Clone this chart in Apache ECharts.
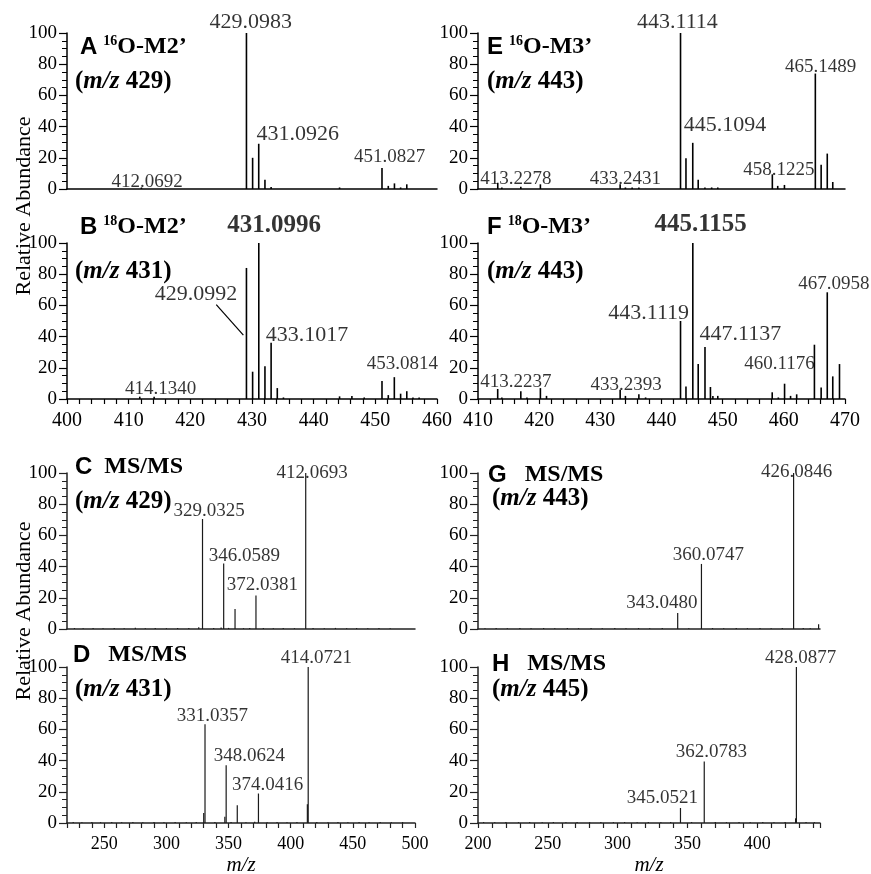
<!DOCTYPE html>
<html><head><meta charset="utf-8">
<script src="https://cdn.jsdelivr.net/npm/echarts@6/dist/echarts.min.js"></script>
<style>html,body{margin:0;padding:0;background:#fff}#c{width:871px;height:874px}</style>
</head><body><div id="c"></div>
<script>
// ---------------- data ----------------
const peaksA = [[412.07,1],[429.10,100],[430.10,20],[431.09,29],[432.10,6],[433.10,1.3],[444.2,1],[451.08,13.5],[452.10,2],[453.10,3.6],[454.10,1],[455.10,3]];
const labelsA_L = [[429.8,101.7,'429.0983'],[437.4,29.6,'431.0926']];
const labelsA_S = [[452.3,16.3,'451.0827'],[413.0,0.2,'412.0692']];

const peaksB = [[411.8,1.5],[414.13,1.5],[429.10,84],[430.10,17.5],[431.10,100],[432.10,21],[433.10,36],[434.10,7],[435.10,1],[444.2,1.7],[446.2,2],[448.2,1],[451.08,11.5],[452.10,2.5],[453.08,14],[454.10,3.4],[455.10,5],[456.1,1],[457.1,1]];
const labelsB_B = [[433.6,105,'431.0996']];
const labelsB_L = [[420.9,62,'429.0992'],[438.9,35.5,'433.1017']];
const labelsB_S = [[454.4,17.7,'453.0814'],[415.2,1.7,'414.1340']];
const leaderB = [[424.2,60.5],[428.6,41]];

const peaksC = [[226,0.6],[233,0.5],[241,0.7],[249,0.5],[258,0.6],[266,0.5],[275,0.8],[283,0.5],[291,0.6],[300,0.5],[309,0.7],[318,0.6],[326,1.2],[329.03,70.5],[338,0.6],[344,1.0],[346.06,42],[350,0.7],[355.2,12.8],[362,0.5],[367,0.6],[372.04,21.4],[378,0.6],[386,0.5],[394,0.6],[403,0.5],[412.07,100],[418,0.6],[427,0.5],[436,0.7],[445,0.5],[453,0.6],[462,0.5],[471,0.6],[480,0.5]];
const labelsC = [[417.3,95.7,'412.0693'],[334.4,71,'329.0325'],[362.7,42.3,'346.0589'],[377.1,24,'372.0381']];

const peaksD = [[225,0.6],[232,0.5],[240,0.6],[247,0.5],[256,0.7],[264,0.5],[273,0.6],[281,0.5],[290,0.7],[298,0.5],[307,0.6],[316,0.5],[324,0.7],[330.0,6.4],[331.04,63.3],[339,0.6],[347.0,4],[348.06,37],[352,0.6],[357.0,11.4],[364,0.5],[371,0.8],[374.04,18.9],[381,0.5],[389,0.6],[397,0.5],[405,0.6],[413.4,12],[414.07,100],[421,0.6],[430,0.5],[438,0.6],[446,0.5],[455,0.6],[463,0.5],[472,0.6],[481,0.5],[490,0.6]];
const labelsD = [[420.7,101.5,'414.0721'],[337,64.4,'331.0357'],[366.7,38.2,'348.0624'],[381.4,20,'374.0416']];

const peaksE = [[413.23,4],[413.9,1],[417.0,1.5],[420.2,3],[433.24,3],[434.1,1],[435.2,1],[436.3,1],[443.11,100],[444.0,19.7],[445.11,29.6],[446.0,6],[447.1,1],[448.2,1],[449.2,1],[458.12,9.4],[459.0,2],[460.1,2.6],[465.15,74],[466.1,15.5],[467.1,22.7],[468.0,4.5]];
const labelsE_L = [[442.6,101.7,'443.1114'],[450.4,35.6,'445.1094']];
const labelsE_S = [[466.0,73.8,'465.1489'],[459.2,7.7,'458.1225'],[434.1,1.7,'433.2431'],[416.2,1.7,'413.2278']];

const peaksF = [[413.22,6.4],[413.9,1],[417.0,5],[418.0,1],[420.2,7],[421.2,2],[433.24,6],[434.1,2],[436.3,3],[437.4,1],[443.11,50],[444.0,8],[445.12,100],[446.0,22.4],[447.11,33.3],[448.0,7.7],[448.4,2],[449.2,2],[458.1,4.3],[459.1,1],[460.12,9.8],[461.1,2],[462.1,3],[465.0,34.8],[466.1,7.3],[467.10,68.4],[468.0,14.5],[469.1,22.4]];
const labelsF_B = [[446.4,105.3,'445.1155']];
const labelsF_L = [[437.9,49.8,'443.1119'],[452.9,35.9,'447.1137']];
const labelsF_S = [[468.2,69,'467.0958'],[459.3,17.7,'460.1176'],[434.2,4.3,'433.2393'],[416.2,6.4,'413.2237']];

const peaksG = [[205,0.5],[213,0.6],[221,0.5],[230,0.7],[238,0.5],[247,0.6],[255,0.5],[264,0.6],[272,0.5],[281,0.7],[289,0.5],[298,0.6],[306,0.5],[315,0.6],[323,0.5],[332,0.7],[343.05,10.3],[351,0.5],[360.07,41.7],[368,0.6],[376,0.5],[385,0.6],[393,0.5],[402,0.7],[410,0.5],[418,0.6],[426.08,100],[433,0.6],[438,0.5],[444,3]];
const labelsG = [[428.3,96,'426.0846'],[365,42.7,'360.0747'],[331.7,12.4,'343.0480']];

const peaksH = [[204,0.6],[212,0.5],[220,0.6],[229,0.5],[237,0.7],[246,0.5],[254,0.6],[263,0.5],[271,0.6],[280,0.5],[288,0.7],[297,0.5],[305,0.6],[314,0.5],[322,0.6],[331,0.5],[338,0.6],[345.05,9.6],[353,0.6],[362.08,39.5],[370,0.6],[378,0.5],[387,0.6],[395,0.5],[404,0.6],[412,0.5],[420,0.6],[427.5,3],[428.09,100],[435,0.6],[441,0.5]];
const labelsH = [[431.2,101.5,'428.0877'],[367.1,41.2,'362.0783'],[332.1,11.75,'345.0521']];

// ---------------- layout ----------------
const FONT = 'Liberation Serif';
const gridBoxes = [
  [67, 33, 370],   // A
  [67, 243, 370],  // B
  [67, 473, 348],  // C
  [67, 667, 348],  // D
  [478, 33, 367],  // E
  [478, 243, 367], // F
  [478, 473, 342], // G
  [478, 667, 342]  // H
];
const grids = gridBoxes.map(g => ({left:g[0], top:g[1], width:g[2], height:156,
  containLabel:false, outerBoundsMode:'none'}));
const xAxes = [], yAxes = [], series = [];

function labelSeries(idx, arr, size, bold) {
  return {
    type:'scatter', xAxisIndex:idx, yAxisIndex:idx, silent:true, clip:false, animation:false,
    data: arr.map(d => [d[0], d[1]]), symbolSize:1, itemStyle:{color:'rgba(0,0,0,0)'},
    label:{show:true, position:'top', distance:0, offset:[0,3], color:'#000',
      fontFamily:FONT, fontSize:size, fontWeight: bold ? 'bold' : 'normal',
      formatter: p => arr[p.dataIndex][2]}
  };
}

function addPanel(idx, xmin, xmax, showX, tickInt, labelEvery, peaks, ms2, labelSets) {
  const axisColor = ms2 ? '#222' : '#000';
  xAxes.push({
    gridIndex: idx, type:'value', min:xmin, max:xmax, interval:tickInt,
    axisLine:{show:true, onZero:false, lineStyle:{color:axisColor, width:1.5}},
    axisTick:{show:showX, length:5, lineStyle:{color:axisColor, width:1.2}},
    axisLabel:{show:showX, margin:12, color:'#000', fontFamily:FONT, fontSize: ms2 ? 18 : 20,
      showMinLabel:true, showMaxLabel:true,
      formatter: v => (Math.abs(v % labelEvery) < 1e-6 ? String(v) : '')},
    splitLine:{show:false},
    name: (showX && ms2) ? 'm/z' : '', nameLocation:'middle', nameGap:32,
    nameTextStyle:{fontFamily:FONT, fontStyle:'italic', fontSize:21, color:'#000'}
  });
  yAxes.push({
    gridIndex: idx, type:'value', min:0, max:100, interval:20,
    axisLine:{show:true, lineStyle:{color:axisColor, width:1.5}},
    axisTick:{show:true, length:8, lineStyle:{color:axisColor, width:1.2}},
    minorTick:{show:true, splitNumber:4, length:5, lineStyle:{color:axisColor, width:1}},
    axisLabel:{margin:10, color:'#000', fontFamily:FONT, fontSize:19},
    splitLine:{show:false}, minorSplitLine:{show:false}
  });
  series.push({
    type:'bar', xAxisIndex:idx, yAxisIndex:idx, data:peaks, barWidth: ms2 ? 1.2 : 1.6,
    itemStyle:{color: ms2 ? '#1a1a1a' : '#000'}, silent:true, clip:false, animation:false
  });
  labelSets.forEach(s => series.push(labelSeries(idx, s[0], s[1], s[2])));
}

addPanel(0, 400, 460, false, 2, 10, peaksA, false, [[labelsA_L,22,false],[labelsA_S,19,false]]);
addPanel(1, 400, 460, true, 2, 10, peaksB, false, [[labelsB_B,25,true],[labelsB_L,22,false],[labelsB_S,19,false]]);
addPanel(2, 220, 500, false, 10, 50, peaksC, true, [[labelsC,19,false]]);
addPanel(3, 220, 500, true, 10, 50, peaksD, true, [[labelsD,19,false]]);
addPanel(4, 410, 470, false, 2, 10, peaksE, false, [[labelsE_L,22,false],[labelsE_S,19,false]]);
addPanel(5, 410, 470, true, 2, 10, peaksF, false, [[labelsF_B,25,true],[labelsF_L,22,false],[labelsF_S,19,false]]);
addPanel(6, 200, 445, false, 10, 50, peaksG, true, [[labelsG,19,false]]);
addPanel(7, 200, 445, true, 10, 50, peaksH, true, [[labelsH,19,false]]);

series.push({type:'line', xAxisIndex:1, yAxisIndex:1, data:leaderB, symbol:'none', silent:true, clip:false,
  animation:false, lineStyle:{color:'#000', width:1.2}});

// ---------------- titles ----------------
const rich = {
  L:{fontFamily:'Liberation Sans', fontWeight:'bold', fontSize:24, lineHeight:26, fill:'#000', color:'#000'},
  T:{fontFamily:FONT, fontWeight:'bold', fontSize:24, lineHeight:26, fill:'#000', color:'#000'},
  s:{fontFamily:FONT, fontWeight:'bold', fontSize:14, verticalAlign:'top', fill:'#000', color:'#000'},
  P:{fontFamily:FONT, fontWeight:'bold', fontSize:25, lineHeight:27, fill:'#000', color:'#000'},
  I:{fontFamily:FONT, fontWeight:'bold', fontStyle:'italic', fontSize:25, lineHeight:27, fill:'#000', color:'#000'}
};
const titleDefs = [
  [80, 47, '{L|A} {s|16}{T|O-M2’}'],   [75, 82, '{P|(}{I|m/z}{P| 429)}'],
  [80, 227, '{L|B} {s|18}{T|O-M2’}'],  [75, 272, '{P|(}{I|m/z}{P| 431)}'],
  [487, 47, '{L|E} {s|16}{T|O-M3’}'],  [487, 82, '{P|(}{I|m/z}{P| 443)}'],
  [487, 227, '{L|F} {s|18}{T|O-M3’}'], [487, 272, '{P|(}{I|m/z}{P| 443)}'],
  [75, 467, '{L|C}{T|  MS/MS}'],       [75, 502, '{P|(}{I|m/z}{P| 429)}'],
  [73, 655, '{L|D}{T|   MS/MS}'],      [75, 690, '{P|(}{I|m/z}{P| 431)}'],
  [488, 475, '{L|G}{T|   MS/MS}'],     [492, 499, '{P|(}{I|m/z}{P| 443)}'],
  [492, 664, '{L|H}{T|   MS/MS}'],     [492, 690, '{P|(}{I|m/z}{P| 445)}']
];
const graphics = titleDefs.map(t => ({
  type:'text', x:t[0], y:t[1], silent:true,
  style:{text:t[2], rich:rich, font:'bold 24px "Liberation Serif"', fill:'#000',
    align:'left', verticalAlign:'middle', textAlign:'left', textVerticalAlign:'middle'}
}));
[[24, 206], [24, 611]].forEach(p => graphics.push({
  type:'text', x:p[0], y:p[1], rotation:Math.PI/2, silent:true,
  style:{text:'Relative Abundance', font:'22px "Liberation Serif"', fill:'#000',
    align:'center', verticalAlign:'middle', textAlign:'center', textVerticalAlign:'middle'}
}));

const chart = echarts.init(document.getElementById('c'), null, {renderer:'canvas'});
chart.setOption({
  animation:false, backgroundColor:'#fff',
  grid: grids, xAxis: xAxes, yAxis: yAxes, series: series, graphic: graphics
});
</script></body></html>
